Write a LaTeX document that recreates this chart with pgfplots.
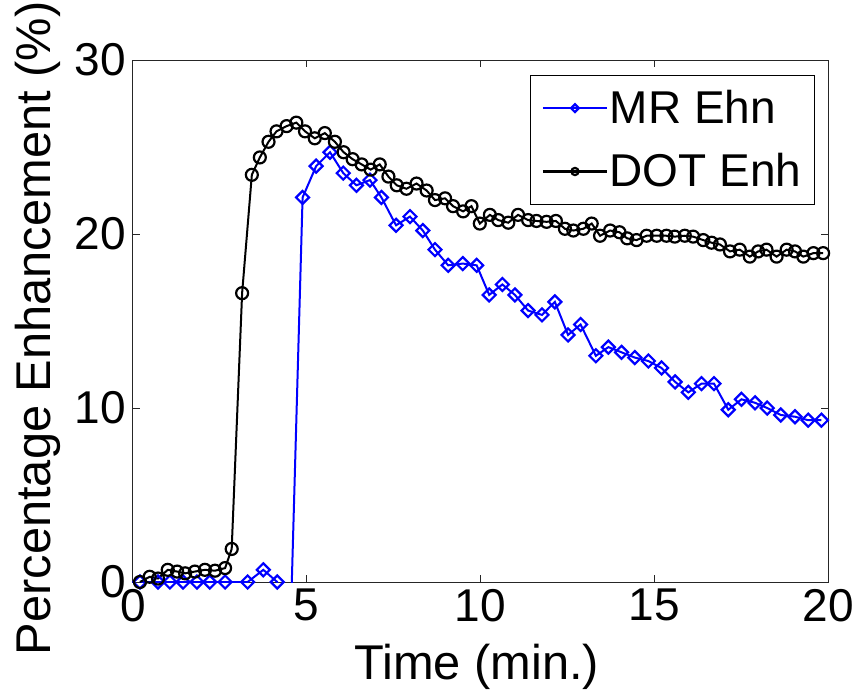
\documentclass[border=0pt]{standalone}
\usepackage{pgfplots}
\pgfplotsset{compat=1.18}
\usepackage{fontspec}
\setmainfont{Liberation Sans}
\newcommand{\bigf}{\fontsize{23}{27}\selectfont}
\newcommand{\labf}{\fontsize{24.4}{29}\selectfont}
\begin{document}
\begin{tikzpicture}
\begin{axis}[
  at={(0pt,0pt)}, anchor=south west,
  scale only axis, width=347.5pt, height=261pt,
  xmin=0, xmax=20, ymin=0, ymax=30,
  xtick={0,5,10,15,20}, ytick={0,10,20,30},
  /pgf/number format/assume math mode=true,
  tick label style={font=\bigf},
  label style={font=\labf},
  tick align=inside, major tick length=3.5pt,
  axis line style={line width=0.5pt, black!85},
  tick style={line width=0.5pt, black!85},
  xlabel={Time (min.)},
  ylabel={Percentage Enhancement (\%)},
  xlabel style={at={(rel axis cs:0.4946,-0.1877)}, anchor=base},
  ylabel style={at={(rel axis cs:-0.1194,0.486)}, anchor=base},
  legend cell align=left,
  legend style={at={(rel axis cs:1,1)}, anchor=north east, xshift=-6.5pt, yshift=-7.5pt,
    font=\bigf, draw=black, line width=0.5pt, inner xsep=5.75pt, inner ysep=0.5pt,
    nodes={inner xsep=0.75pt, inner ysep=6.75pt}},
  legend image code/.code={\draw[mark repeat=2,mark phase=2, line width=1.3pt, every mark/.append style={scale=0.6}] plot coordinates {(0pt,0pt) (16pt,0pt) (32pt,0pt)};},
]
\addplot[color=blue, line width=1pt, mark=square, mark size=2.3pt, mark options={rotate=45, line width=1.1pt, fill=none}] coordinates {
(0.2,0) (0.72,0) (1.06,0) (1.44,0) (1.84,0) (2.21,0) (2.65,0) (3.3,0) (3.75,0.7) (4.15,0) (4.5,-5)
(4.88,22.1) (5.27,23.9) (5.67,24.7) (6.05,23.5) (6.43,22.8) (6.82,23.1) (7.15,22.1) (7.57,20.5)
(7.97,21.0) (8.34,20.2) (8.69,19.1) (9.07,18.2) (9.49,18.3) (9.89,18.2) (10.25,16.5) (10.63,17.1)
(10.99,16.5) (11.37,15.6) (11.77,15.35) (12.14,16.1) (12.52,14.2) (12.88,14.8) (13.32,13.0)
(13.68,13.5) (14.06,13.2) (14.44,12.9) (14.83,12.7) (15.21,12.3) (15.6,11.5) (15.98,10.9)
(16.36,11.4) (16.72,11.4) (17.13,9.9) (17.51,10.5) (17.9,10.3) (18.25,10.0) (18.64,9.6)
(19.05,9.5) (19.43,9.3) (19.81,9.3)
};
\addlegendentry{MR Ehn}
\addplot[color=black, line width=1pt, mark=o, mark size=3pt, mark options={line width=1.1pt}] coordinates {
(0.2,0.0) (0.48,0.3) (0.72,0.2) (1.0,0.7) (1.27,0.6) (1.5,0.5) (1.78,0.6) (2.07,0.7) (2.36,0.65)
(2.65,0.8) (2.84,1.9) (3.14,16.6) (3.42,23.4) (3.65,24.4) (3.9,25.3) (4.13,25.9) (4.42,26.2)
(4.7,26.4) (4.95,25.9) (5.23,25.5) (5.52,25.8) (5.81,25.3) (6.06,24.7) (6.32,24.3) (6.58,24.0)
(6.84,23.7) (7.1,24.0) (7.35,23.3) (7.59,22.8) (7.87,22.6) (8.16,22.9) (8.45,22.5) (8.69,21.95)
(8.98,22.05) (9.21,21.6) (9.5,21.3) (9.74,21.6) (9.98,20.6) (10.27,21.1) (10.51,20.8) (10.8,20.65)
(11.08,21.1) (11.37,20.8) (11.61,20.75) (11.9,20.7) (12.17,20.75) (12.43,20.3) (12.67,20.2)
(12.96,20.3) (13.2,20.6) (13.44,19.9) (13.73,20.2) (14.0,20.1) (14.22,19.75) (14.49,19.65)
(14.78,19.9) (15.07,19.9) (15.35,19.9) (15.59,19.85) (15.88,19.9) (16.12,19.85) (16.41,19.65)
(16.65,19.5) (16.89,19.4) (17.18,19.0) (17.46,19.1) (17.75,18.7) (17.99,19.0) (18.23,19.1)
(18.52,18.7) (18.81,19.1) (19.05,19.0) (19.29,18.7) (19.58,18.9) (19.86,18.9)
};
\addlegendentry{DOT Enh}
\end{axis}
\pgfresetboundingbox
\path (-66.5pt,-55pt) rectangle (361pt,291pt);
\end{tikzpicture}
\end{document}
